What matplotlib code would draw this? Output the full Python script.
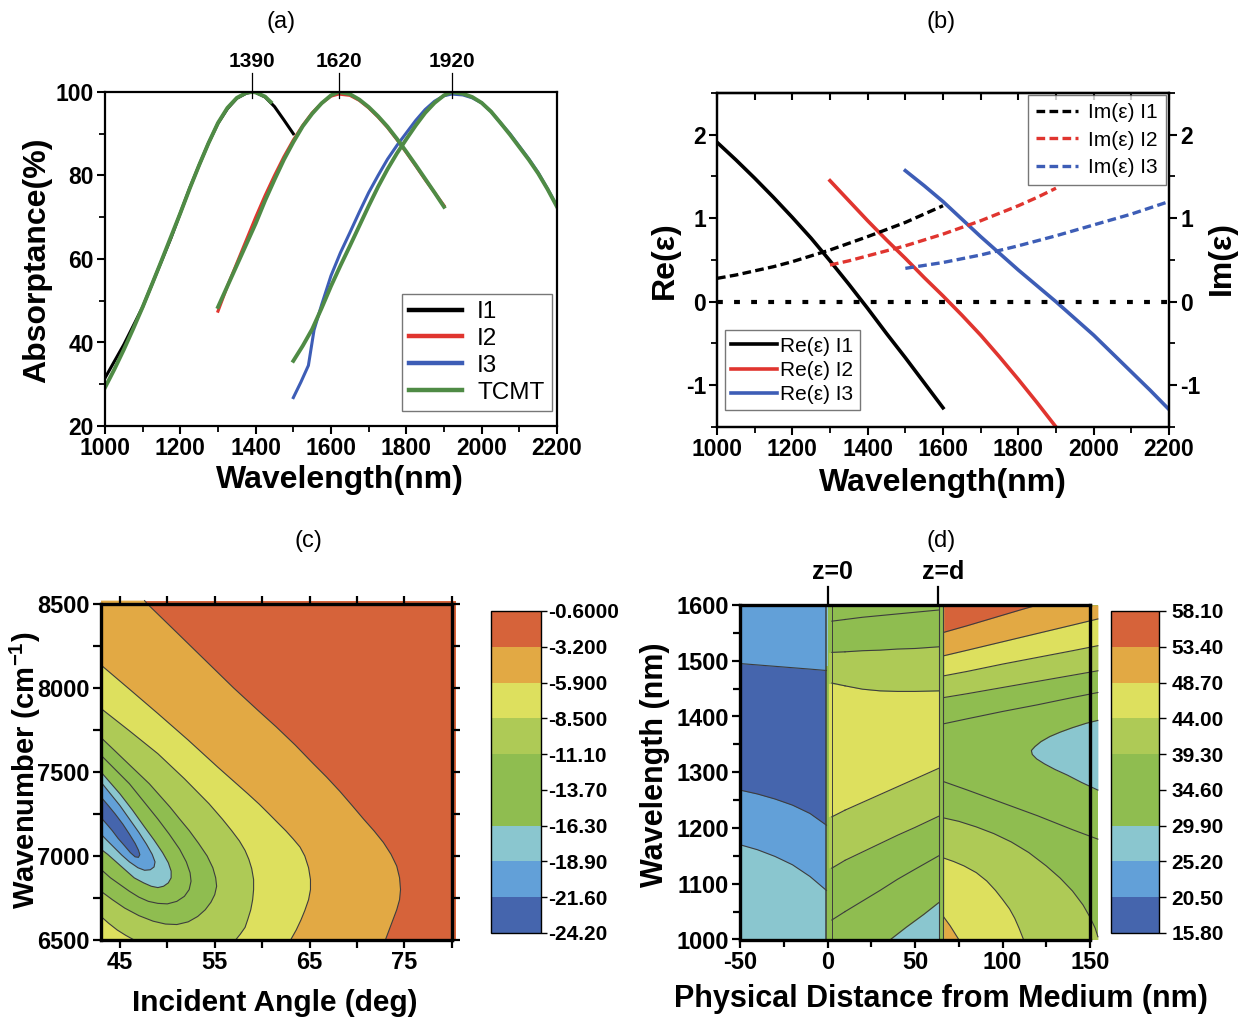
import numpy as np
import matplotlib
matplotlib.use('Agg')
import matplotlib as mpl
import matplotlib.pyplot as plt
from matplotlib.colors import ListedColormap, BoundaryNorm
from matplotlib.ticker import MultipleLocator, FixedLocator
from matplotlib import font_manager

names = {f.name for f in font_manager.fontManager.ttflist}
FONT = 'Liberation Sans' if 'Liberation Sans' in names else 'DejaVu Sans'
plt.rcParams['font.family'] = [FONT, 'DejaVu Sans']
plt.rcParams['axes.unicode_minus'] = False
plt.rcParams['mathtext.fontset'] = 'custom'
plt.rcParams['mathtext.rm'] = FONT
plt.rcParams['mathtext.bf'] = FONT + ':bold'

# ---------------- data (a) ----------------
wl_i1 = [1000, 1025, 1050, 1075, 1100, 1125, 1150, 1175, 1200, 1225, 1250, 1275, 1300, 1325, 1350,
         1375, 1390, 1400, 1425, 1450, 1475, 1500]
abs_i1 = [31.5, 35.5, 39.5, 44, 48.5, 54, 59.5, 65, 71, 77, 82.5, 87.8, 92.5, 96, 98.5,
          99.7, 100, 99.9, 98.8, 96.5, 93.3, 90]
wl_t1 = [1000, 1025, 1050, 1075, 1100, 1125, 1150, 1175, 1200, 1225, 1250, 1275, 1300, 1325, 1350,
         1375, 1390, 1400, 1425, 1440]
abs_t1 = [29.2, 33.6, 38.3, 43.3, 48.5, 54, 59.6, 65.3, 71, 76.9, 82.5, 87.8, 92.6, 96.2, 98.6,
          99.8, 100, 99.9, 98.9, 97.6]
wl_i2 = [1300, 1325, 1350, 1375, 1400, 1425, 1450, 1475, 1500, 1525, 1550, 1575, 1600, 1620, 1650,
         1675, 1700, 1725, 1750, 1775, 1800, 1825, 1850, 1875, 1900]
abs_i2 = [47.5, 53.5, 59, 64.5, 70, 75.2, 80, 84.5, 88.5, 92, 95, 97.3, 99, 99.5, 99.2,
          98, 96.2, 94, 91.5, 88.6, 85.5, 82.3, 79, 75.9, 72.8]
wl_t2 = wl_i2
abs_t2 = [48.5, 53.5, 58.5, 63.5, 68.5, 74, 79, 83.8, 88, 91.8, 94.8, 97.3, 99.2, 100, 99.5,
          98.2, 96.4, 94.2, 91.7, 88.8, 85.7, 82.5, 79.2, 75.9, 72.5]
wl_i3 = [1500, 1520, 1540, 1555, 1575, 1600, 1625, 1650, 1675, 1700, 1725, 1750, 1775, 1800, 1825,
         1850, 1875, 1900, 1920, 1950, 1975, 2000, 2025, 2050, 2075, 2100, 2125, 2150, 2175, 2200]
abs_i3 = [26.8, 30.5, 34.5, 43, 49, 56, 61.5, 66.3, 71.2, 75.9, 80, 83.9, 87.2, 90.2, 93.2,
          95.8, 97.8, 99.1, 99.5, 99.3, 98.6, 97.4, 95.3, 92.6, 90, 87, 84, 80.7, 76.8, 72.7]
wl_t3 = [1500, 1525, 1550, 1575, 1600, 1625, 1650, 1675, 1700, 1725, 1750, 1775, 1800, 1825, 1850,
         1875, 1900, 1920, 1950, 1975, 2000, 2025, 2050, 2075, 2100, 2125, 2150, 2175, 2200]
abs_t3 = [35.6, 39.2, 43.2, 48.2, 53.5, 58.4, 63.1, 67.9, 72.7, 77.3, 81.5, 85.3, 88.7, 92, 95,
          97.4, 99.2, 100, 99.6, 98.8, 97.4, 95.3, 92.6, 89.8, 86.8, 83.8, 80.5, 76.7, 72.5]
peaks = [1390, 1620, 1920]
labels_a = ['I1', 'I2', 'I3', 'TCMT']

# ---------------- data (b) ----------------
wl_b1 = [1000, 1050, 1100, 1150, 1200, 1250, 1300, 1350, 1400, 1450, 1500, 1550, 1600]
re1 = [1.91, 1.70, 1.48, 1.25, 1.01, 0.76, 0.49, 0.21, -0.08, -0.38, -0.67, -0.97, -1.27]
im1 = [0.28, 0.32, 0.37, 0.42, 0.48, 0.55, 0.62, 0.70, 0.78, 0.865, 0.95, 1.05, 1.15]
wl_b2 = [1300, 1350, 1400, 1450, 1500, 1550, 1600, 1650, 1700, 1750, 1800, 1850, 1900]
re2 = [1.45, 1.21, 0.97, 0.74, 0.52, 0.29, 0.07, -0.16, -0.40, -0.66, -0.93, -1.21, -1.5]
im2 = [0.44, 0.49, 0.55, 0.61, 0.67, 0.74, 0.81, 0.89, 0.97, 1.06, 1.15, 1.25, 1.36]
wl_b3 = [1500, 1550, 1600, 1650, 1700, 1750, 1800, 1850, 1900, 1950, 2000, 2050, 2100, 2150, 2200]
re3 = [1.57, 1.39, 1.2, 0.99, 0.78, 0.58, 0.38, 0.19, 0.0, -0.2, -0.4, -0.62, -0.84, -1.06, -1.29]
im3 = [0.40, 0.435, 0.47, 0.515, 0.56, 0.615, 0.67, 0.73, 0.79, 0.855, 0.92, 0.985, 1.05, 1.125, 1.2]

# ---------------- data (c): contour boundaries (angle, wavenumber) ----------------
levels_c = [-24.2, -21.6, -18.9, -16.3, -13.7, -11.1, -8.5, -5.9, -3.2, -0.6]
cb_labels_c = ['-24.20', '-21.60', '-18.90', '-16.30', '-13.70', '-11.10', '-8.500', '-5.900', '-3.200', '-0.6000']
c_l32_x = [47.6, 47.9, 51.0, 54.0, 57.0, 59.5, 61.5, 63.5, 65.3, 66.8, 68.2, 69.5, 70.7, 71.8, 72.8,
           73.6, 74.2, 74.5, 74.6, 74.5, 74.2, 73.8, 73.4, 73.0]
c_l32_y = [8520, 8500, 8330, 8165, 8000, 7870, 7768, 7660, 7555, 7470, 7385, 7300, 7220, 7150, 7080,
           7010, 6940, 6870, 6800, 6740, 6680, 6620, 6560, 6500]
c_l59_x = [43.0, 46.0, 49.0, 52.2, 55.3, 57.1, 58.5, 59.7, 60.7, 61.7, 62.5, 63.3, 64.0, 64.5, 64.9,
           65.1, 65.1, 64.9, 64.5, 64.1, 63.6, 63.0]
c_l59_y = [8137, 7993, 7848, 7690, 7530, 7440, 7370, 7308, 7252, 7195, 7150, 7100, 7053, 7000, 6930,
           6860, 6800, 6740, 6675, 6620, 6560, 6500]
c_l85_x = [43.0, 46.0, 49.0, 51.8, 54.4, 55.8, 56.8, 57.6, 58.2, 58.6, 58.9, 59.1, 59.1, 59.0, 58.8,
           58.5, 58.2, 57.7, 57.2]
c_l85_y = [7878, 7745, 7609, 7460, 7311, 7220, 7150, 7090, 7033, 6980, 6925, 6860, 6800, 6740, 6680,
           6625, 6575, 6535, 6500]
c_l85b_x = [43.0, 43.8, 44.7, 45.6, 46.5]
c_l85b_y = [6640, 6600, 6560, 6528, 6500]
c_l111_x = [43.0, 44.3, 45.5, 46.8, 48.1, 49.2, 50.3, 51.3, 52.3, 53.3, 54.2, 54.8, 55.1, 55.2, 55.0,
            54.6, 54.0, 53.2, 52.2, 51.0, 49.8, 48.5, 47.0, 45.5, 44.2, 43.0]
c_l111_y = [7705, 7635, 7570, 7500, 7430, 7360, 7290, 7220, 7152, 7075, 7000, 6930, 6870, 6820, 6770,
            6725, 6680, 6640, 6608, 6592, 6595, 6612, 6645, 6690, 6740, 6790]
c_l137_x = [43.0, 44.5, 46.0, 47.5, 49.0, 50.2, 51.3, 52.0, 52.4, 52.5, 52.3, 51.8, 51.0, 50.0, 49.0,
            48.0, 47.0, 46.0, 45.0, 44.0, 43.0]
c_l137_y = [7600, 7515, 7430, 7325, 7220, 7130, 7040, 6965, 6900, 6850, 6800, 6760, 6730, 6715, 6718,
            6730, 6755, 6790, 6830, 6870, 6920]
c_l163_x = [43.0, 44.0, 45.0, 46.3, 47.5, 48.6, 49.5, 50.1, 50.4, 50.4, 50.1, 49.6, 49.0, 48.3, 47.5,
            46.5, 45.5, 44.5, 43.7, 43.0]
c_l163_y = [7500, 7435, 7370, 7275, 7180, 7095, 7020, 6960, 6910, 6870, 6840, 6820, 6812, 6820, 6840,
            6870, 6920, 6970, 7010, 7040]
c_l189_x = [43.0, 44.0, 45.0, 46.0, 47.0, 47.8, 48.4, 48.7, 48.6, 48.2, 47.6, 46.9, 46.0, 45.2, 44.4,
            43.6, 43.0]
c_l189_y = [7440, 7370, 7300, 7220, 7140, 7070, 7010, 6965, 6935, 6918, 6915, 6930, 6965, 7005, 7050,
            7095, 7130]
c_l216_x = [43.0, 43.7, 44.5, 45.3, 46.0, 46.6, 46.95, 47.1, 46.95, 46.6, 46.1, 45.5, 44.8, 44.2, 43.6, 43.0]
c_l216_y = [7351, 7305, 7250, 7190, 7130, 7075, 7035, 7008, 6992, 6995, 7020, 7060, 7105, 7150, 7190, 7228]

# ---------------- data (d): contour boundaries (distance, wavelength) ----------------
levels_d = [15.8, 20.5, 25.2, 29.9, 34.6, 39.3, 44.0, 48.7, 53.4, 58.1]
cb_labels_d = ['15.80', '20.50', '25.20', '29.90', '34.60', '39.30', '44.00', '48.70', '53.40', '58.10']
dA_x = [-50, -40, -30, -20, -10, -0.6]
dA_dark_top = [1495, 1492.5, 1490, 1487.5, 1485, 1482.5]
dA_dark_bot = [1268, 1261, 1252, 1241, 1226, 1205]
dA_cyan_top = [1170, 1161, 1149, 1134, 1113, 1088]
dB_x = [0.5, 10, 20, 30, 40, 50, 63.5]
dB_b1 = [1571, 1574, 1578, 1581, 1584, 1587, 1591]
dB_b2 = [1515, 1516, 1518, 1519, 1521, 1522, 1525]
dB_b3 = [1460, 1455, 1449, 1446, 1445, 1445, 1446]
dB_b4 = [1220, 1232, 1246, 1260, 1274, 1288, 1307]
dB_b5 = [1128, 1142, 1157, 1172, 1187, 1201, 1221]
dB_b6 = [1035, 1050, 1069, 1088, 1108, 1126, 1150]
dB_cy_x = [36, 45, 55, 63.5]
dB_cy_y = [1000, 1022, 1045, 1066]
dC_x = [66.5, 80, 100, 120, 140, 154.5]
dC_or = [1509, 1519, 1534, 1549, 1564, 1575]
dC_ye = [1473, 1481, 1494, 1506, 1518, 1527]
dC_lg = [1434, 1441, 1452, 1463, 1474, 1482]
dC_g1 = [1387, 1396, 1409, 1421, 1434, 1443]
dC_g2 = [1283, 1268, 1245, 1222, 1197, 1180]
dC_red_x = [66.5, 80, 95, 110, 120]
dC_red_y = [1551, 1563, 1577, 1591, 1600]
dC_lg2_x = [66.5, 75, 85, 95, 105, 115, 125, 133, 140, 146, 150, 153, 154.5]
dC_lg2_y = [1218, 1212, 1202, 1190, 1175, 1156, 1132, 1110, 1087, 1062, 1040, 1020, 1005]
dC_ye2_x = [66.5, 72, 78, 85, 91, 96, 100, 104, 107, 109.5, 111, 112]
dC_ye2_y = [1146, 1140, 1132, 1120, 1105, 1088, 1072, 1055, 1038, 1020, 1008, 1000]
dC_or2_x = [66.5, 70, 73, 75]
dC_or2_y = [1040, 1025, 1010, 1000]
dC_lens_y = [1393, 1388, 1380, 1372, 1364, 1355, 1346, 1339, 1332, 1324, 1315, 1305, 1295, 1282, 1268]
dC_lens_x = [154.5, 148, 140, 133, 127, 122, 118.5, 116.5, 117, 119.5, 124, 130, 137, 145, 154.5]

# ---------------- style ----------------
BLK, RED, BLU, GRN = 'black', '#E0352F', '#3D5DB6', '#4F8B45'
PAL = ['#4565AD', '#62A0D8', '#8AC6CF', '#8FBD50', '#8FBD50', '#AECA56', '#DDE05E', '#E2A944', '#D6633A']
C_DK, C_BL, C_CY, C_GR, C_GR2, C_LG, C_YE, C_OR, C_RD = PAL
LINEC = '#3d3d3d'
LW_C = 0.8

W, H = 1243, 1021
fig = plt.figure(figsize=(W / 100, H / 100), dpi=100)


def rect(l, t, r, b):
    return [l / W, 1 - b / H, (r - l) / W, (b - t) / H]


def style_ticks(ax, size):
    for lab in ax.get_xticklabels() + ax.get_yticklabels():
        lab.set_fontweight('bold')
        lab.set_fontsize(size)


# ================= (a) =================
axa = fig.add_axes(rect(105, 92, 557, 426))
axa.plot(wl_i1, abs_i1, color=BLK, lw=2.2, label=labels_a[0])
axa.plot(wl_i2, abs_i2, color=RED, lw=2.2, label=labels_a[1])
axa.plot(wl_i3, abs_i3, color=BLU, lw=2.2, label=labels_a[2])
axa.plot(wl_t1, abs_t1, color=GRN, lw=2.8, label=labels_a[3])
axa.plot(wl_t2, abs_t2, color=GRN, lw=2.8)
axa.plot(wl_t3, abs_t3, color=GRN, lw=2.8)
axa.set_xlim(1000, 2200)
axa.set_ylim(20, 100)
axa.xaxis.set_major_locator(MultipleLocator(200))
axa.xaxis.set_minor_locator(MultipleLocator(100))
axa.yaxis.set_major_locator(MultipleLocator(20))
axa.yaxis.set_minor_locator(MultipleLocator(10))
axa.tick_params(which='major', direction='out', length=6, width=1.5, pad=2)
axa.tick_params(which='minor', direction='out', length=4, width=1.3)
for s in axa.spines.values():
    s.set_linewidth(1.6)
style_ticks(axa, 16.5)
for p in peaks:
    axa.plot([p, p], [98.5, 104.5], color=BLK, lw=0.9, clip_on=False)
    axa.text(p, 105, str(p), ha='center', va='bottom', fontsize=15, fontweight='bold')
lega = axa.legend(loc='lower right', bbox_to_anchor=(0.988, 0.045), fontsize=17.5, frameon=True,
                  fancybox=False, edgecolor='#555555', handlelength=2.2, handletextpad=0.6,
                  labelspacing=0.2, borderpad=0.3, borderaxespad=0)
lega.get_frame().set_linewidth(1.0)
for h in lega.get_lines():
    h.set_linewidth(3.2)
fig.text(281 / W, 1 - 22 / H, '(a)', ha='center', va='center', fontsize=17)
fig.text(37 / W, 1 - 260 / H, 'Absorptance(%)', rotation=90, ha='center', va='center',
         fontsize=23, fontweight='bold')
fig.text(340 / W, 1 - 480 / H, 'Wavelength(nm)', ha='center', va='center', fontsize=23, fontweight='bold')

# ================= (b) =================
axb = fig.add_axes(rect(717, 93, 1169, 427))
axb2 = axb.twinx()
l1, = axb.plot(wl_b1, re1, color=BLK, lw=2.6, label='Re(ε) I1')
l2, = axb.plot(wl_b2, re2, color=RED, lw=2.6, label='Re(ε) I2')
l3, = axb.plot(wl_b3, re3, color=BLU, lw=2.6, label='Re(ε) I3')
axb.axhline(0, color=BLK, lw=3.0, ls=(0, (1.4, 2.7)))
d1, = axb2.plot(wl_b1, im1, color=BLK, lw=2.4, ls=(0, (2.6, 1.3)), label='Im(ε) I1')
d2, = axb2.plot(wl_b2, im2, color=RED, lw=2.4, ls=(0, (2.6, 1.3)), label='Im(ε) I2')
d3, = axb2.plot(wl_b3, im3, color=BLU, lw=2.4, ls=(0, (2.6, 1.3)), label='Im(ε) I3')
for ax in (axb, axb2):
    ax.set_xlim(1000, 2200)
    ax.set_ylim(-1.5, 2.5)
    ax.yaxis.set_major_locator(MultipleLocator(1))
    ax.yaxis.set_minor_locator(MultipleLocator(0.5))
axb.xaxis.set_major_locator(MultipleLocator(200))
axb.xaxis.set_minor_locator(MultipleLocator(100))
axb.tick_params(which='major', direction='out', length=6, width=1.5, pad=2)
axb.tick_params(which='minor', direction='out', length=4, width=1.3)
axb2.tick_params(which='major', direction='out', length=6, width=1.5, pad=2)
axb2.tick_params(which='minor', direction='out', length=4, width=1.3)
secx = axb.secondary_xaxis('top')
secx.xaxis.set_major_locator(MultipleLocator(100))
secx.tick_params(direction='in', length=5, width=1.5, labeltop=False)
for s in list(axb.spines.values()) + list(axb2.spines.values()) + list(secx.spines.values()):
    s.set_linewidth(1.6)
style_ticks(axb, 16.5)
style_ticks(axb2, 16.5)
legb1 = axb.legend(handles=[l1, l2, l3], loc='lower left', bbox_to_anchor=(0.018, 0.05), fontsize=15,
                   fancybox=False, edgecolor='#555555', handlelength=2.2, handletextpad=0.15,
                   labelspacing=0.25, borderpad=0.3, borderaxespad=0)
legb1.get_frame().set_linewidth(1.0)
legb2 = axb2.legend(handles=[d1, d2, d3], loc='upper right', bbox_to_anchor=(0.994, 0.994), fontsize=15,
                    fancybox=False, edgecolor='#555555', handlelength=2.0, handletextpad=0.5,
                    labelspacing=0.4, borderpad=0.4, borderaxespad=0)
legb2.get_frame().set_linewidth(1.0)
fig.text(941 / W, 1 - 22 / H, '(b)', ha='center', va='center', fontsize=17)
fig.text(665 / W, 1 - 260 / H, 'Re(ε)', rotation=90, ha='center', va='center', fontsize=23, fontweight='bold')
fig.text(1222 / W, 1 - 258 / H, 'Im(ε)', rotation=90, ha='center', va='center', fontsize=23, fontweight='bold')
fig.text(943 / W, 1 - 483 / H, 'Wavelength(nm)', ha='center', va='center', fontsize=23, fontweight='bold')

# ================= (c) =================
axc = fig.add_axes(rect(101, 604, 451.7, 940))
kw = dict(clip_on=False, lw=0)
axc.fill([43, 80.5, 80.5, 43], [6500, 6500, 8520, 8520], color=C_RD, **kw)
axc.fill(c_l32_x + [43, 43], c_l32_y + [6500, 8520], color=C_OR, **kw)
axc.fill(c_l59_x + [43], c_l59_y + [6500], color=C_YE, **kw)
axc.fill(c_l85_x + [43], c_l85_y + [6500], color=C_LG, **kw)
axc.fill(c_l85b_x + [43], c_l85b_y + [6500], color=C_YE, **kw)
axc.fill(c_l111_x, c_l111_y, color=C_GR, **kw)
axc.fill(c_l137_x, c_l137_y, color=C_GR2, **kw)
axc.fill(c_l163_x, c_l163_y, color=C_CY, **kw)
axc.fill(c_l189_x, c_l189_y, color=C_BL, **kw)
axc.fill(c_l216_x, c_l216_y, color=C_DK, **kw)
for xs, ys in [(c_l32_x, c_l32_y), (c_l59_x, c_l59_y), (c_l85_x, c_l85_y), (c_l85b_x, c_l85b_y),
               (c_l111_x, c_l111_y), (c_l137_x, c_l137_y), (c_l163_x, c_l163_y),
               (c_l189_x, c_l189_y), (c_l216_x, c_l216_y)]:
    axc.plot(xs, ys, color=LINEC, lw=LW_C, clip_on=False)
axc.set_xlim(43, 80)
axc.set_ylim(6500, 8500)
axc.xaxis.set_major_locator(FixedLocator([45, 55, 65, 75]))
axc.xaxis.set_minor_locator(FixedLocator([50, 60, 70, 80]))
axc.yaxis.set_major_locator(MultipleLocator(500))
axc.yaxis.set_minor_locator(MultipleLocator(250))
axc.tick_params(which='both', direction='out', top=True, right=True, width=1.6, pad=2)
axc.tick_params(which='major', length=6)
axc.tick_params(which='minor', length=6)
for s in axc.spines.values():
    s.set_linewidth(2.4)
style_ticks(axc, 17)
caxc = fig.add_axes(rect(491, 611, 541, 933))
cmap = ListedColormap(PAL)
cbc = mpl.colorbar.ColorbarBase(caxc, cmap=cmap, norm=BoundaryNorm(levels_c, cmap.N),
                                boundaries=levels_c, ticks=levels_c, spacing='uniform')
cbc.ax.set_yticklabels(cb_labels_c)
cbc.outline.set_linewidth(1.0)
cbc.ax.tick_params(direction='out', length=4, width=1.0, pad=1)
for lab in cbc.ax.get_yticklabels():
    lab.set_fontweight('bold')
    lab.set_fontsize(15)
fig.text(308 / W, 1 - 541 / H, '(c)', ha='center', va='center', fontsize=17)
fig.text(25 / W, 1 - 770 / H, r'Wavenumber (cm$^{\mathbf{-1}}$)', rotation=90, ha='center', va='center',
         fontsize=21, fontweight='bold')
fig.text(275 / W, 1 - 1003 / H, 'Incident Angle (deg)', ha='center', va='center', fontsize=21.5,
         fontweight='bold')

# ================= (d) =================
axd = fig.add_axes(rect(740, 605, 1090, 939.5))
kw = dict(clip_on=False, lw=0)
# zone A
axd.fill_between(dA_x, 1000, 1600, color=C_BL, **kw)
axd.fill_between(dA_x, dA_dark_bot, dA_dark_top, color=C_DK, **kw)
axd.fill_between(dA_x, 1000, dA_cyan_top, color=C_CY, **kw)
# gap at z=0
axd.fill_between([-0.6, 0.5], 1000, 1600, color=C_GR, **kw)
axd.fill_between([-0.6, 0.8], 1490, 1600, color=C_CY, **kw)
# zone B
axd.fill_between(dB_x, 1000, 1600, color=C_GR, **kw)
axd.fill_between(dB_x, dB_b5, dB_b4, color=C_LG, **kw)
axd.fill_between(dB_x, dB_b4, dB_b3, color=C_YE, **kw)
axd.fill_between(dB_x, dB_b3, dB_b2, color=C_LG, **kw)
axd.fill_between(dB_cy_x, 1000, dB_cy_y, color=C_CY, **kw)
# gap at z=d
axd.fill_between([63.5, 66.5], 1000, 1600, color=C_GR, **kw)
# zone C
axd.fill_between(dC_x, 1000, 1600, color=C_GR, **kw)
axd.fill_between(dC_x, dC_or, 1600, color=C_OR, **kw)
axd.fill_between(dC_red_x, dC_red_y, 1600, color=C_RD, **kw)
axd.fill_between(dC_x, dC_ye, dC_or, color=C_YE, **kw)
axd.fill_between(dC_x, dC_lg, dC_ye, color=C_LG, **kw)
axd.fill_between(dC_lg2_x, 1000, dC_lg2_y, color=C_LG, **kw)
axd.fill_between(dC_ye2_x, 1000, dC_ye2_y, color=C_YE, **kw)
axd.fill_between(dC_or2_x, 1000, dC_or2_y, color=C_OR, **kw)
axd.fill_betweenx(dC_lens_y, dC_lens_x, 154.5, color=C_CY, **kw)
# contour lines
for ys in (dA_dark_top, dA_dark_bot, dA_cyan_top):
    axd.plot(dA_x, ys, color=LINEC, lw=LW_C)
for ys in (dB_b1, dB_b2, dB_b3, dB_b4, dB_b5, dB_b6):
    axd.plot(dB_x[1:], ys[1:], color=LINEC, lw=LW_C)
    axd.plot([dB_x[0] + 2.0, dB_x[1]], [ys[0], ys[1]], color=LINEC, lw=LW_C)
axd.plot(dB_cy_x, dB_cy_y, color=LINEC, lw=LW_C)
for ys in (dC_or, dC_ye, dC_lg, dC_g1, dC_g2):
    axd.plot(dC_x, ys, color=LINEC, lw=LW_C, clip_on=False)
for xs, ys in ((dC_red_x, dC_red_y), (dC_lg2_x, dC_lg2_y), (dC_ye2_x, dC_ye2_y), (dC_or2_x, dC_or2_y),
               (dC_lens_x, dC_lens_y)):
    axd.plot(xs, ys, color=LINEC, lw=LW_C, clip_on=False)
for xv, lw in ((-0.6, 1.1), (2.5, 0.7), (63.5, 0.8), (66.0, 0.8)):
    axd.plot([xv, xv], [1000, 1600], color=LINEC, lw=lw)
axd.set_xlim(-50, 150)
axd.set_ylim(1000, 1600)
axd.xaxis.set_major_locator(MultipleLocator(50))
axd.xaxis.set_minor_locator(MultipleLocator(25))
axd.yaxis.set_major_locator(MultipleLocator(100))
axd.yaxis.set_minor_locator(MultipleLocator(50))
axd.tick_params(which='both', direction='out', width=1.6, pad=2)
axd.tick_params(which='major', length=6)
axd.tick_params(which='minor', length=5)
for s in axd.spines.values():
    s.set_linewidth(2.4)
style_ticks(axd, 17)
for xv, lab in ((0, 'z=0'), (63.3, 'z=d')):
    axd.plot([xv, xv], [1600, 1632], color=BLK, lw=1.6, clip_on=False)
    axd.text(xv + 3, 1637, lab, ha='center', va='bottom', fontsize=18, fontweight='bold')
caxd = fig.add_axes(rect(1111, 611, 1159, 933))
cbd = mpl.colorbar.ColorbarBase(caxd, cmap=cmap, norm=BoundaryNorm(levels_d, cmap.N),
                                boundaries=levels_d, ticks=levels_d, spacing='uniform')
cbd.ax.set_yticklabels(cb_labels_d)
cbd.outline.set_linewidth(1.0)
cbd.ax.tick_params(direction='out', length=5, width=1.0, pad=4)
for lab in cbd.ax.get_yticklabels():
    lab.set_fontweight('bold')
    lab.set_fontsize(15)
fig.text(941 / W, 1 - 541 / H, '(d)', ha='center', va='center', fontsize=17)
fig.text(655 / W, 1 - 765 / H, 'Wavelength (nm)', rotation=90, ha='center', va='center',
         fontsize=22, fontweight='bold')
fig.text(941 / W, 1 - 999 / H, 'Physical Distance from Medium (nm)', ha='center', va='center',
         fontsize=22, fontweight='bold')

fig.savefig('out.png', dpi=100)
